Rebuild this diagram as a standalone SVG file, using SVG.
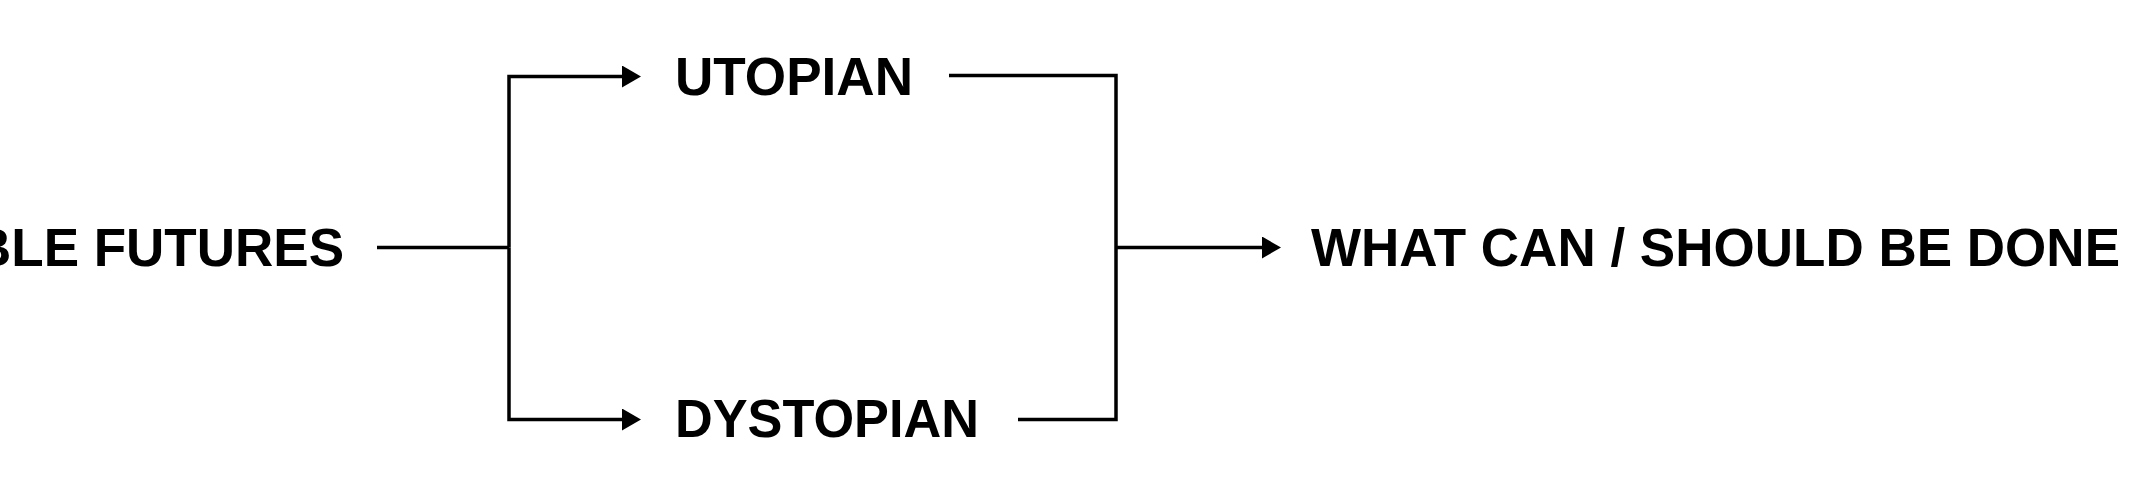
<svg xmlns="http://www.w3.org/2000/svg" width="2139" height="477" viewBox="0 0 2139 477">
<style>
.lbl{font-family:"Liberation Sans",Arial,Helvetica,sans-serif;font-size:53px;font-weight:bold;fill:#000}
.con{fill:none;stroke:#000;stroke-width:3.5;stroke-linejoin:miter;stroke-linecap:butt}
</style>
<defs>
<marker id="arr" viewBox="0 0 19 22" refX="9" refY="11" markerWidth="19" markerHeight="22" markerUnits="userSpaceOnUse" orient="auto">
<path d="M0,0 L19,11 L0,22 Z" fill="#000"/>
</marker>
</defs>
<rect width="2139" height="477" fill="#fff"/>
<g id="connectors">
<path class="con" d="M377,247.5 H509"/>
<path class="con" d="M509,247.5 V76.5 H631" marker-end="url(#arr)"/>
<path class="con" d="M509,247.5 V419.5 H631" marker-end="url(#arr)"/>
<path class="con" d="M949,75.5 H1116 V419.5 H1018"/>
<path class="con" d="M1116,247.5 H1271" marker-end="url(#arr)"/>
</g>
<g id="node-futures"><text class="lbl" x="344" y="266" text-anchor="end">BLE FUTURES</text></g>
<g id="node-utopian"><text class="lbl" x="675" y="95" textLength="238" lengthAdjust="spacingAndGlyphs">UTOPIAN</text></g>
<g id="node-dystopian"><text class="lbl" x="675" y="437" textLength="304" lengthAdjust="spacingAndGlyphs">DYSTOPIAN</text></g>
<g id="node-done"><text class="lbl" x="1311" y="266" textLength="809" lengthAdjust="spacingAndGlyphs">WHAT CAN / SHOULD BE DONE</text></g>
</svg>
